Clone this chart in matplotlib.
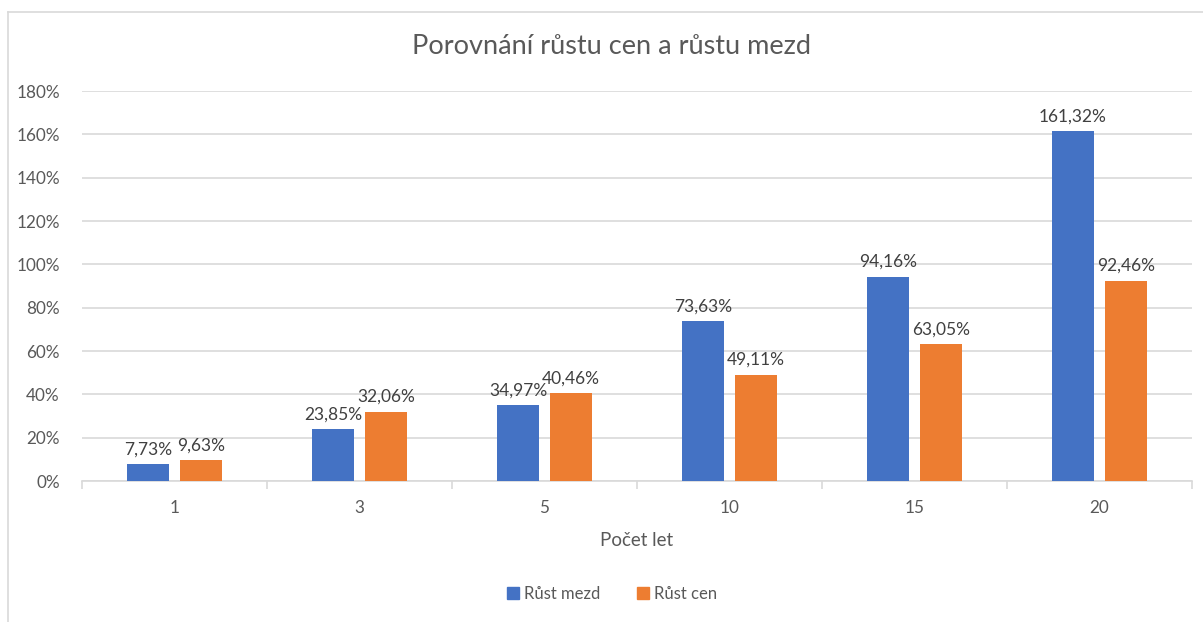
import numpy as np
import matplotlib.pyplot as plt
from matplotlib.lines import Line2D
from matplotlib.patches import Patch

# data
years = ['1', '3', '5', '10', '15', '20']
rust_mezd = [7.73, 23.85, 34.97, 73.63, 94.16, 161.32]
rust_cen = [9.63, 32.06, 40.46, 49.11, 63.05, 92.46]

blue = '#4472C4'
orange = '#ED7D31'
txt = '#595959'
grid = '#D9D9D9'

plt.rcParams['font.family'] = ['Lato', 'DejaVu Sans']

fig = plt.figure(figsize=(12.03, 6.22), dpi=100)
ax = fig.add_axes([82/1203, 1-481/622, (1192-82)/1203, (481-91)/622])

x = np.arange(len(years))
w = 0.227
off = 0.143
b1 = ax.bar(x - off, rust_mezd, w, color=blue, zorder=3)
b2 = ax.bar(x + off, rust_cen, w, color=orange, zorder=3)

def fmt(v):
    return f'{v:.2f}%'.replace('.', ',')

for bars, vals in [(b1, rust_mezd), (b2, rust_cen)]:
    for r, v in zip(bars, vals):
        ax.annotate(fmt(v), (r.get_x() + r.get_width()/2, v), xytext=(0, 5),
                    textcoords='offset points', ha='center', va='bottom',
                    fontsize=12.5, color='#404040')

ax.set_xlim(-0.5, len(years) - 0.5)
ax.set_ylim(0, 180)
ax.set_yticks(np.arange(0, 181, 20))
ax.set_yticklabels([f'{v}%' for v in range(0, 181, 20)])
ax.yaxis.grid(True, color=grid, linewidth=1.2, zorder=0)
ax.set_axisbelow(True)

ax.set_xticks(x)
ax.set_xticklabels(years)
ax.set_xticks(np.arange(-0.5, len(years), 1), minor=True)
ax.tick_params(axis='x', which='major', length=0, pad=14, labelsize=12.3, labelcolor=txt)
ax.tick_params(axis='x', which='minor', length=6, color=grid, width=1.2)
ax.tick_params(axis='y', length=0, pad=16, labelsize=12.3, labelcolor=txt)

for s in ['top', 'right', 'left']:
    ax.spines[s].set_visible(False)
ax.spines['bottom'].set_color(grid)
ax.spines['bottom'].set_linewidth(1.2)

ax.set_xlabel('Počet let', fontsize=13.5, color=txt, labelpad=11)

fig.text(611/1203, 1-47/622, 'Porovnání růstu cen a růstu mezd', ha='center', va='center',
         fontsize=19.5, color=txt)

handles = [Patch(color=blue), Patch(color=orange)]
fig.legend(handles, ['Růst mezd', 'Růst cen'], loc='center', bbox_to_anchor=(612/1203, 1-594/622),
           ncol=2, frameon=False, fontsize=12, labelcolor=txt, handlelength=0.7, handleheight=0.7,
           handletextpad=0.3, columnspacing=2.2)

# chart area border
fig.add_artist(Line2D([8/1203, 1], [1-12/622, 1-12/622], color=grid, linewidth=1.2))
fig.add_artist(Line2D([8/1203, 8/1203], [0, 1-12/622], color=grid, linewidth=1.2))

fig.savefig('out.png', dpi=100, facecolor='white')
